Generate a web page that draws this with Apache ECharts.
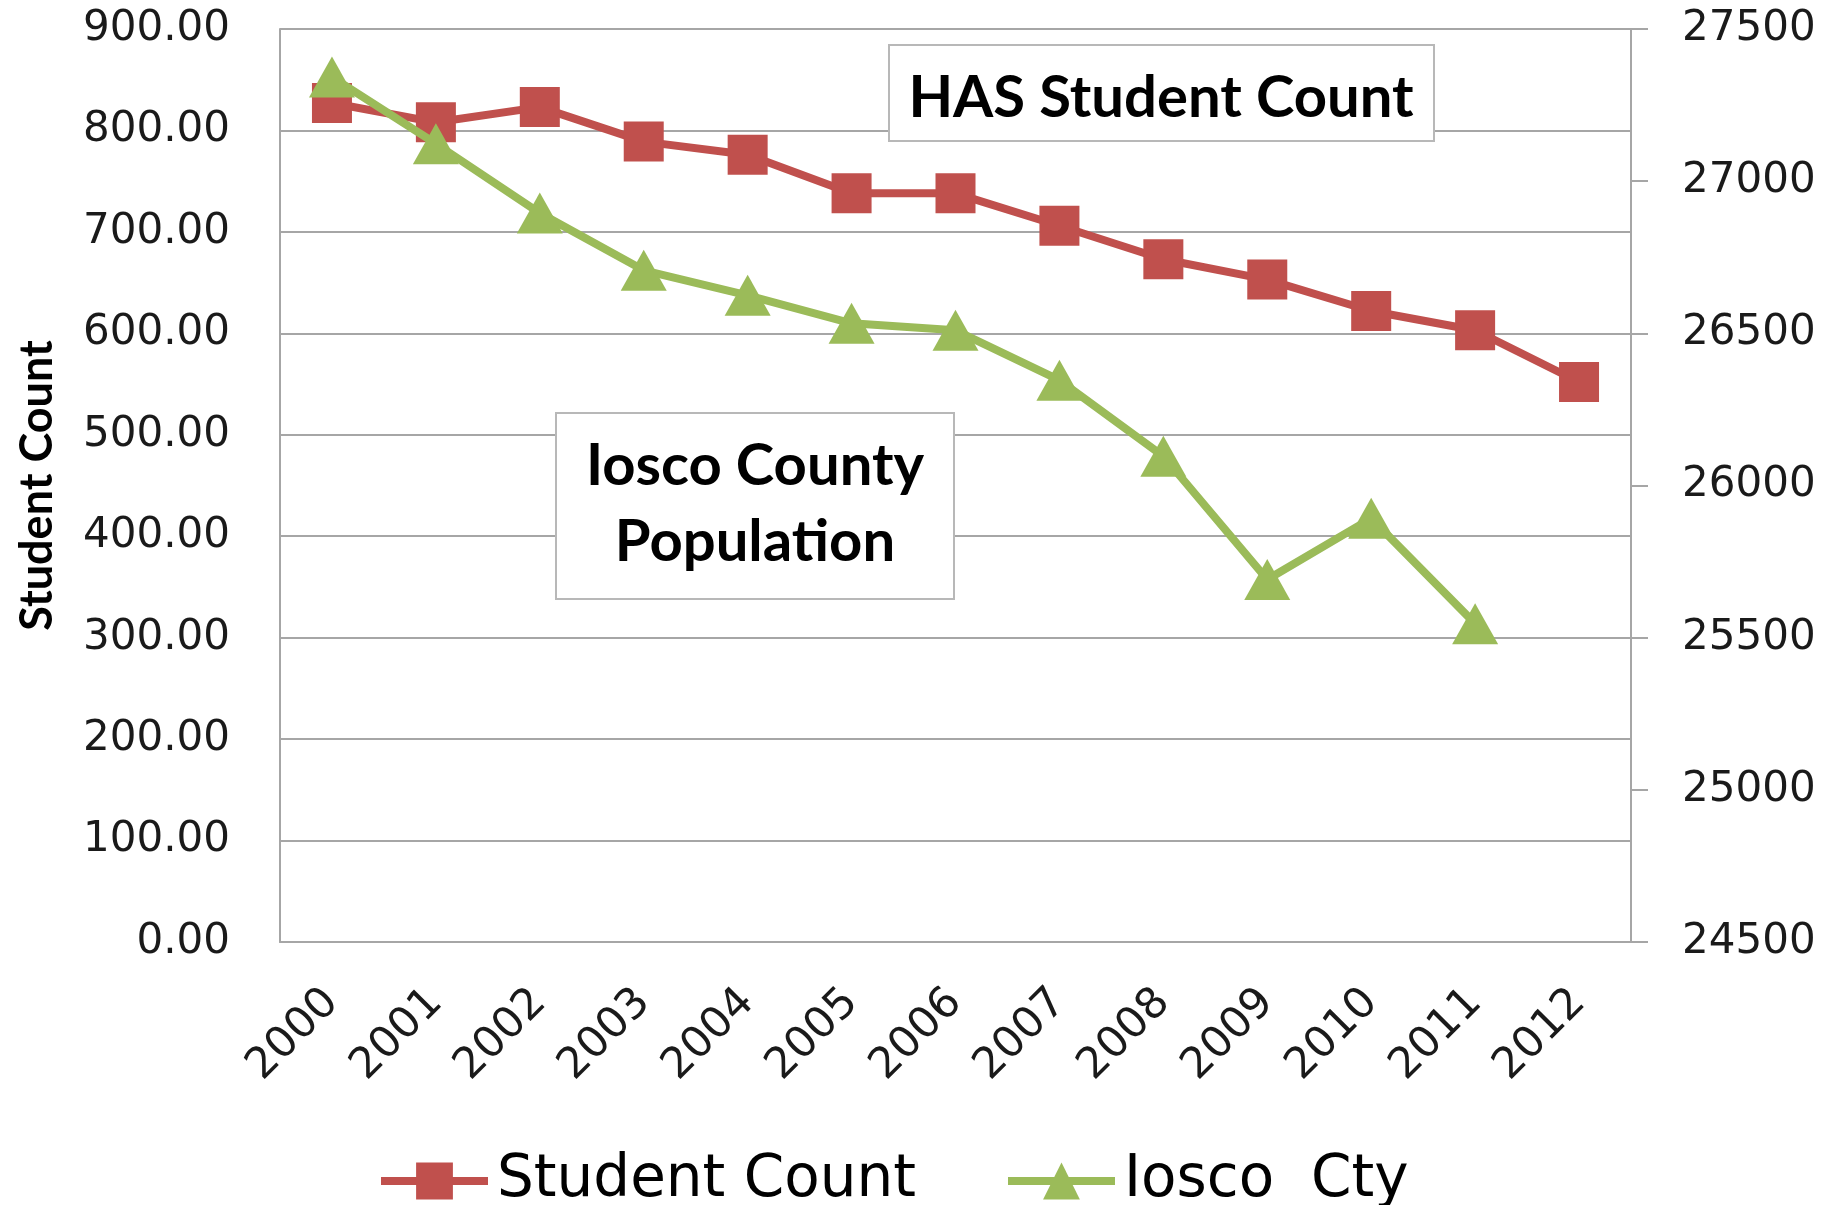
<!DOCTYPE html>
<html>
<head>
<meta charset="utf-8">
<script src="https://cdn.jsdelivr.net/npm/echarts@6/dist/echarts.min.js"></script>
<style>
html,body{margin:0;padding:0;background:#fff;}
#c{width:1822px;height:1205px;}
</style>
</head>
<body>
<div id="c"></div>
<script>
const years = ['2000','2001','2002','2003','2004','2005','2006','2007','2008','2009','2010','2011','2012'];
const studentCount = [827, 808, 823, 789, 776, 738, 738, 706, 673, 653, 622, 603, 552];
const ioscoPop = [27342, 27123, 26895, 26707, 26625, 26533, 26510, 26346, 26096, 25691, 25892, 25546, null];
const leftTicks = {min: 0, max: 900, interval: 100};
const rightTicks = {min: 24500, max: 27500, interval: 500};
const seriesNames = ['Student Count', 'Iosco  Cty'];
const annoHAS = 'HAS Student Count';
const annoIosco = 'Iosco County\nPopulation';

const chart = echarts.init(document.getElementById('c'), null, {renderer: 'canvas'});
const gridColor = '#a6a6a6';
const labelFont = 'DejaVu Sans';
const boldFont = 'Lato';

chart.setOption({
  animation: false,
  backgroundColor: '#fff',
  grid: {left: 280, right: 191, top: 29, bottom: 263, containLabel: false},
  legend: {
    data: seriesNames,
    left: 372,
    top: 1147,
    itemWidth: 107,
    itemHeight: 46,
    itemGap: 88,
    lineStyle: {width: 8},
    textStyle: {fontFamily: labelFont, fontSize: 58, color: '#000', padding: [0, 0, 0, 4]}
  },
  xAxis: {
    type: 'category',
    data: years,
    boundaryGap: true,
    axisLine: {show: true, lineStyle: {color: gridColor, width: 2}},
    axisTick: {show: false},
    axisLabel: {rotate: 45, margin: 54, fontFamily: labelFont, fontSize: 43, color: '#1a1a1a', interval: 0}
  },
  yAxis: [
    {
      type: 'value',
      min: leftTicks.min, max: leftTicks.max, interval: leftTicks.interval,
      name: 'Student Count',
      nameLocation: 'middle',
      nameRotate: 90,
      nameGap: 220,
      nameTextStyle: {fontFamily: boldFont, fontWeight: 'bold', fontSize: 45, color: '#000'},
      axisLine: {show: true, lineStyle: {color: gridColor, width: 2}},
      axisTick: {show: false},
      axisLabel: {margin: 50, fontFamily: labelFont, fontSize: 42, color: '#1a1a1a', formatter: v => v.toFixed(2)},
      splitLine: {show: true, lineStyle: {color: gridColor, width: 2}}
    },
    {
      type: 'value',
      position: 'right',
      min: rightTicks.min, max: rightTicks.max, interval: rightTicks.interval,
      axisLine: {show: true, lineStyle: {color: gridColor, width: 2}},
      axisTick: {show: true, inside: false, length: 17, lineStyle: {color: gridColor, width: 2}},
      axisLabel: {margin: 51, fontFamily: labelFont, fontSize: 42, color: '#1a1a1a', formatter: v => String(v)},
      splitLine: {show: false}
    }
  ],
  graphic: [
    {type: 'rect', z: 10, shape: {x: 889, y: 45, width: 545, height: 96}, style: {fill: '#fff', stroke: '#b8b8b8', lineWidth: 2}},
    {type: 'text', z: 11, x: 1161, y: 98, style: {text: annoHAS, align: 'center', verticalAlign: 'middle', fontFamily: boldFont, fontWeight: 'bold', fontSize: 58, fill: '#000'}},
    {type: 'rect', z: 10, shape: {x: 556, y: 413, width: 398, height: 186}, style: {fill: '#fff', stroke: '#b8b8b8', lineWidth: 2}},
    {type: 'text', z: 11, x: 755, y: 504, style: {text: annoIosco, align: 'center', verticalAlign: 'middle', lineHeight: 76, fontFamily: boldFont, fontWeight: 'bold', fontSize: 58, fill: '#000'}}
  ],
  series: [
    {
      name: seriesNames[0],
      type: 'line',
      yAxisIndex: 0,
      data: studentCount,
      symbol: 'rect',
      symbolSize: 40,
      z: 3,
      lineStyle: {color: '#C0504D', width: 8},
      itemStyle: {color: '#C0504D'}
    },
    {
      name: seriesNames[1],
      type: 'line',
      yAxisIndex: 1,
      data: ioscoPop,
      symbol: 'triangle',
      symbolSize: [46, 41],
      z: 4,
      lineStyle: {color: '#9BBB59', width: 8},
      itemStyle: {color: '#9BBB59'}
    }
  ]
});
</script>
</body>
</html>
